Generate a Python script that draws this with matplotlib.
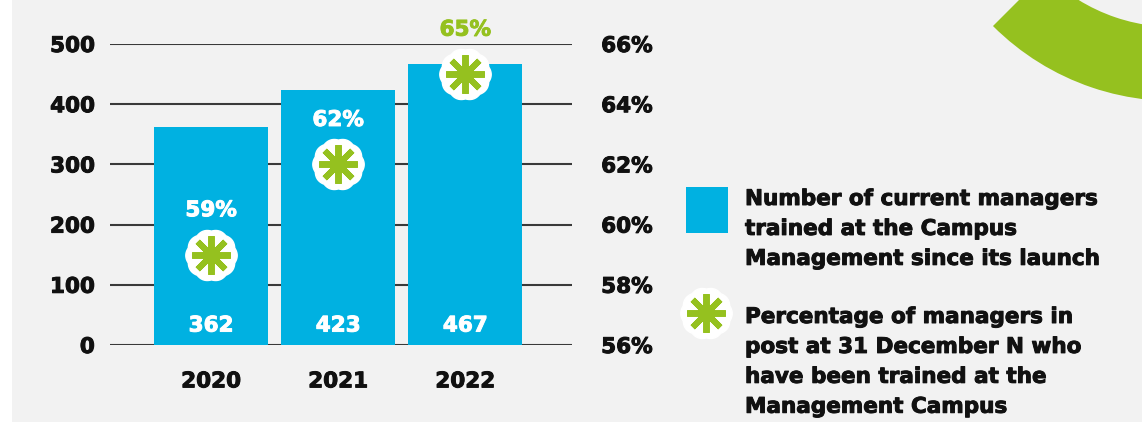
import numpy as np
import matplotlib.pyplot as plt
import matplotlib.patheffects as pe
from matplotlib.path import Path
from matplotlib.patches import Rectangle, Wedge

years = ["2020", "2021", "2022"]
managers_trained = [362, 423, 467]
pct_trained = [59, 62, 65]
left_ticks = [0, 100, 200, 300, 400, 500]
right_ticks = [56, 58, 60, 62, 64, 66]

BLUE = "#00b1e1"
GREEN = "#95c11f"
BG = "#f2f2f2"
INK = "#111111"

plt.rcParams["font.family"] = ["DejaVu Sans"]
plt.rcParams["font.weight"] = "bold"


def heavy(color):
    # thicken the bold face a little
    return [pe.withStroke(linewidth=0.7, foreground=color)]


# scalloped badge drawn behind the asterisk
theta = np.linspace(0, 2 * np.pi, 400)
rad = 0.95 + 0.05 * np.abs(np.cos(5 * theta))
badge = Path(np.column_stack([rad * np.cos(theta), rad * np.sin(theta)]), closed=True)

fig = plt.figure(figsize=(11.42, 4.22), dpi=100)
fig.patch.set_facecolor("white")

# full-figure layer in pixel units for the backdrop, arc and legend
bg = fig.add_axes([0, 0, 1, 1], zorder=-5)
bg.set_xlim(0, 1142)
bg.set_ylim(422, 0)
bg.axis("off")
bg.add_patch(Rectangle((12, 0), 1142, 422, color=BG, lw=0))
bg.add_patch(Wedge((1174, -155), 256, 30, 135, width=74, color=GREEN, lw=0))

ax = fig.add_axes([110 / 1142, 77 / 422, 462 / 1142, 301 / 422])
ax.set_facecolor("none")
x = np.arange(len(years))
ax.bar(x, managers_trained, width=0.9, color=BLUE, zorder=2)
ax.set_xlim(-0.795, 2.84)
ax.set_ylim(0, 500)
ax.set_yticks(left_ticks)
ax.yaxis.grid(True, color="#3a3a3a", lw=1.5)
ax.set_axisbelow(True)
ax.set_xticks(x, years)
for s in ax.spines.values():
    s.set_visible(False)
ax.tick_params(axis="y", length=0, pad=11, labelsize=15.5, labelcolor=INK)
ax.tick_params(axis="x", length=0, pad=19, labelsize=15.5, labelcolor=INK)
for xi, v in zip(x, managers_trained):
    ax.annotate(str(v), (xi, 0), xytext=(0, 14), textcoords="offset points",
                ha="center", va="center", color="white", fontsize=15.5,
                path_effects=heavy("white"))

ax2 = ax.twinx()
ax2.set_ylim(56, 66)
ax2.set_yticks(right_ticks, [f"{t}%" for t in right_ticks])
for s in ax2.spines.values():
    s.set_visible(False)
ax2.tick_params(axis="y", length=0, pad=21, labelsize=15.5, labelcolor=INK)
ax2.plot(x, pct_trained, ls="none", marker=badge, ms=37, mfc="white", mec="white", zorder=3)
ax2.plot(x, pct_trained, ls="none", marker=(8, 2, 0), ms=28, mec=GREEN, mew=4.3, zorder=4)
label_colors = ["white", "white", GREEN]
for xi, p, c in zip(x, pct_trained, label_colors):
    ax2.annotate(f"{p}%", (xi, p), xytext=(0, 32), textcoords="offset points",
                 ha="center", va="center", color=c, fontsize=15.5,
                 annotation_clip=False, path_effects=heavy(c))

for lbl in ax.get_xticklabels() + ax.get_yticklabels() + ax2.get_yticklabels():
    lbl.set_path_effects(heavy(INK))

# legend
bg.add_patch(Rectangle((686, 187), 42, 46, color=BLUE, lw=0))
bg.plot([706], [313], ls="none", marker=badge, ms=37, mfc="white", mec="white")
bg.plot([706], [313], ls="none", marker=(8, 2, 0), ms=28, mec=GREEN, mew=4.3)
bg.text(745, 189, "Number of current managers\ntrained at the Campus\nManagement since its launch",
        va="top", ha="left", fontsize=15.5, color=INK, linespacing=1.62,
        path_effects=heavy(INK))
bg.text(745, 307, "Percentage of managers in\npost at 31 December N who\nhave been trained at the\nManagement Campus",
        va="top", ha="left", fontsize=15.5, color=INK, linespacing=1.62,
        path_effects=heavy(INK))

fig.savefig("out.png", dpi=100, facecolor=fig.get_facecolor())
